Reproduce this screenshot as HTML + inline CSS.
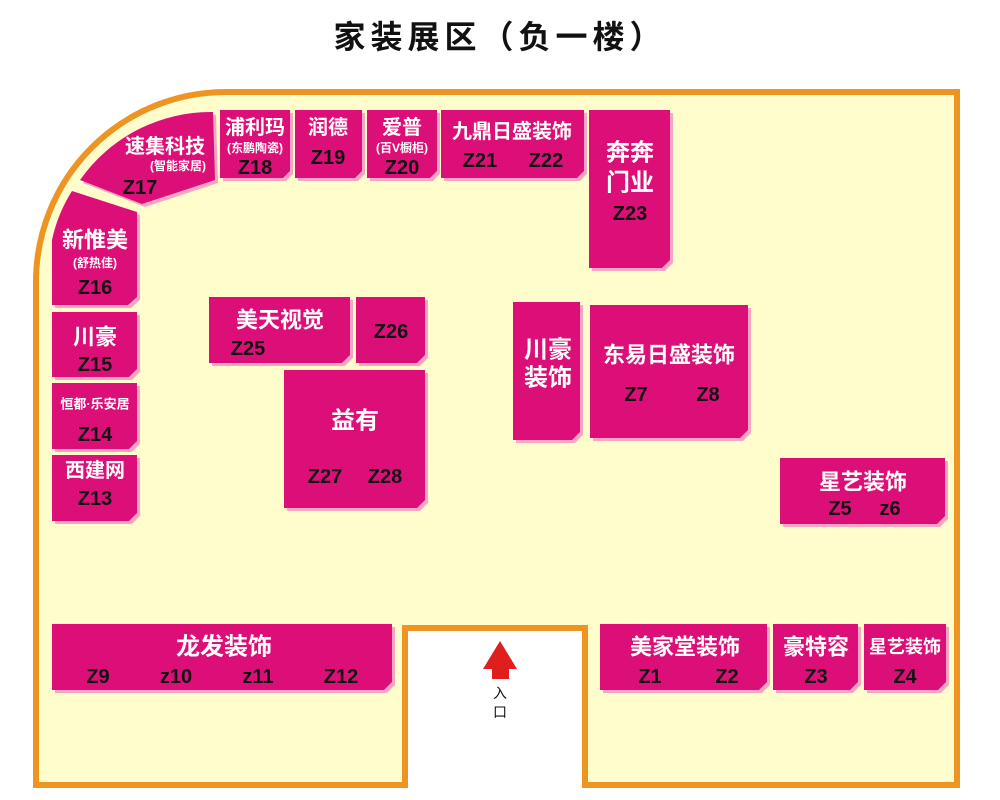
<!DOCTYPE html>
<html><head><meta charset="utf-8"><style>
html,body{margin:0;padding:0;background:#fff;width:1000px;height:800px;overflow:hidden}
svg{display:block}
text{font-family:"Liberation Sans","Noto Sans CJK SC",sans-serif;font-weight:bold;text-anchor:middle;dominant-baseline:central}
.w{fill:#fff}.k{fill:#111}
.s{fill:#F6A6C4}.m{fill:#DC0F78}
</style></head><body>
<svg width="1000" height="800" viewBox="0 0 1000 800">
<text x="500" y="37" font-size="32" class="k" letter-spacing="5">家装展区（负一楼）</text>
<path d="M36,785 L36,282 A190,190 0 0 1 226,92 L957,92 L957,785 L585,785 L585,628 L405,628 L405,785 Z" fill="#FFFDCB" stroke="#EE9422" stroke-width="6"/>
<rect x="408" y="631" width="174" height="160" fill="#fff"/>
<g class="s" transform="translate(3,3)">
<path d="M80,180 A160,160 0 0 1 213,112 L215,180 L142,204 Z"/>
<path d="M72,191 L137,212 L137,297 L128,305 L52,305 L52,240 A150,150 0 0 1 72,191 Z"/>
<polygon points="220,110 290,110 290,171 283,178 220,178"/>
<polygon points="295,110 362,110 362,171 355,178 295,178"/>
<polygon points="367,110 437,110 437,171 430,178 367,178"/>
<polygon points="441,110 584,110 584,171 577,178 441,178"/>
<polygon points="589,110 670,110 670,260 662,268 589,268"/>
<polygon points="52,312 137,312 137,369 129,377 52,377"/>
<polygon points="52,383 137,383 137,441 129,449 52,449"/>
<polygon points="52,455 137,455 137,513 129,521 52,521"/>
<polygon points="209,297 350,297 350,355 342,363 209,363"/>
<polygon points="356,297 425,297 425,355 417,363 356,363"/>
<polygon points="284,370 425,370 425,500 417,508 284,508"/>
<polygon points="513,302 580,302 580,432 572,440 513,440"/>
<polygon points="590,305 748,305 748,430 740,438 590,438"/>
<polygon points="780,458 945,458 945,516 937,524 780,524"/>
<polygon points="52,624 392,624 392,682 384,690 52,690"/>
<polygon points="600,624 767,624 767,682 759,690 600,690"/>
<polygon points="773,624 858,624 858,682 850,690 773,690"/>
<polygon points="864,624 946,624 946,682 938,690 864,690"/>
</g>
<g class="m">
<path d="M80,180 A160,160 0 0 1 213,112 L215,180 L142,204 Z"/>
<path d="M72,191 L137,212 L137,297 L128,305 L52,305 L52,240 A150,150 0 0 1 72,191 Z"/>
<polygon points="220,110 290,110 290,171 283,178 220,178"/>
<polygon points="295,110 362,110 362,171 355,178 295,178"/>
<polygon points="367,110 437,110 437,171 430,178 367,178"/>
<polygon points="441,110 584,110 584,171 577,178 441,178"/>
<polygon points="589,110 670,110 670,260 662,268 589,268"/>
<polygon points="52,312 137,312 137,369 129,377 52,377"/>
<polygon points="52,383 137,383 137,441 129,449 52,449"/>
<polygon points="52,455 137,455 137,513 129,521 52,521"/>
<polygon points="209,297 350,297 350,355 342,363 209,363"/>
<polygon points="356,297 425,297 425,355 417,363 356,363"/>
<polygon points="284,370 425,370 425,500 417,508 284,508"/>
<polygon points="513,302 580,302 580,432 572,440 513,440"/>
<polygon points="590,305 748,305 748,430 740,438 590,438"/>
<polygon points="780,458 945,458 945,516 937,524 780,524"/>
<polygon points="52,624 392,624 392,682 384,690 52,690"/>
<polygon points="600,624 767,624 767,682 759,690 600,690"/>
<polygon points="773,624 858,624 858,682 850,690 773,690"/>
<polygon points="864,624 946,624 946,682 938,690 864,690"/>
</g>
<text x="165" y="147" font-size="20" class="w">速集科技</text>
<text x="178" y="166" font-size="12" class="w">(智能家居)</text>
<text x="140" y="188" font-size="20" class="k">Z17</text>
<text x="255" y="128" font-size="20" class="w">浦利玛</text>
<text x="255" y="148" font-size="12" class="w">(东鹏陶瓷)</text>
<text x="255" y="168" font-size="20" class="k">Z18</text>
<text x="328" y="128" font-size="20" class="w">润德</text>
<text x="328" y="158" font-size="20" class="k">Z19</text>
<text x="402" y="128" font-size="20" class="w">爱普</text>
<text x="402" y="148" font-size="12" class="w">(百V橱柜)</text>
<text x="402" y="168" font-size="20" class="k">Z20</text>
<text x="512" y="132" font-size="20" class="w">九鼎日盛装饰</text>
<text x="480" y="161" font-size="20" class="k">Z21</text>
<text x="546" y="161" font-size="20" class="k">Z22</text>
<text x="630" y="153" font-size="24" class="w">奔奔</text>
<text x="630" y="183" font-size="24" class="w">门业</text>
<text x="630" y="214" font-size="20" class="k">Z23</text>
<text x="95" y="240" font-size="22" class="w">新惟美</text>
<text x="95" y="263" font-size="12" class="w">(舒热佳)</text>
<text x="95" y="288" font-size="20" class="k">Z16</text>
<text x="95" y="337" font-size="22" class="w">川豪</text>
<text x="95" y="365" font-size="20" class="k">Z15</text>
<text x="95" y="404" font-size="13" class="w">恒都·乐安居</text>
<text x="95" y="435" font-size="20" class="k">Z14</text>
<text x="95" y="471" font-size="20" class="w">西建网</text>
<text x="95" y="499" font-size="20" class="k">Z13</text>
<text x="280" y="320" font-size="22" class="w">美天视觉</text>
<text x="248" y="349" font-size="20" class="k">Z25</text>
<text x="391" y="332" font-size="20" class="k">Z26</text>
<text x="355" y="421" font-size="24" class="w">益有</text>
<text x="325" y="477" font-size="20" class="k">Z27</text>
<text x="385" y="477" font-size="20" class="k">Z28</text>
<text x="548" y="350" font-size="24" class="w">川豪</text>
<text x="548" y="378" font-size="24" class="w">装饰</text>
<text x="669" y="355" font-size="22" class="w">东易日盛装饰</text>
<text x="636" y="395" font-size="20" class="k">Z7</text>
<text x="708" y="395" font-size="20" class="k">Z8</text>
<text x="863" y="482" font-size="22" class="w">星艺装饰</text>
<text x="840" y="509" font-size="20" class="k">Z5</text>
<text x="890" y="509" font-size="20" class="k">z6</text>
<text x="224" y="647" font-size="24" class="w">龙发装饰</text>
<text x="98" y="677" font-size="20" class="k">Z9</text>
<text x="176" y="677" font-size="20" class="k">z10</text>
<text x="258" y="677" font-size="20" class="k">z11</text>
<text x="341" y="677" font-size="20" class="k">Z12</text>
<text x="685" y="647" font-size="22" class="w">美家堂装饰</text>
<text x="650" y="677" font-size="20" class="k">Z1</text>
<text x="727" y="677" font-size="20" class="k">Z2</text>
<text x="816" y="647" font-size="22" class="w">豪特容</text>
<text x="816" y="677" font-size="20" class="k">Z3</text>
<text x="905" y="647" font-size="18" class="w">星艺装饰</text>
<text x="905" y="677" font-size="20" class="k">Z4</text>
<polygon points="483,669 500,641 517,669 509,669 509,679 492,679 492,669" fill="#E01E1E"/>
<text x="500" y="693" font-size="14" class="k" style="font-weight:normal">入</text>
<text x="500" y="712" font-size="14" class="k" style="font-weight:normal">口</text>
</svg>
</body></html>
